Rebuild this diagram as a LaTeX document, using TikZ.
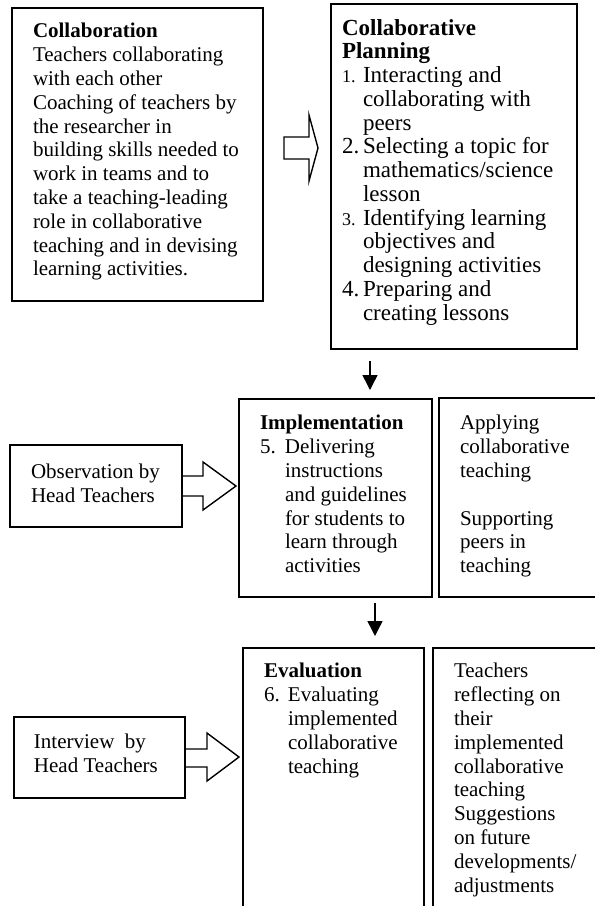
\documentclass[tikz,border=0pt]{standalone}
\usepackage{fontspec}
\setmainfont{Liberation Serif}
\usetikzlibrary{arrows.meta}
\newcommand\numb[1]{\makebox[21pt][l]{#1}}
\newcommand\smallnumb[1]{\makebox[21pt][l]{\fontsize{18}{23.75}\selectfont #1}}
\newcommand\hind[1][21pt]{\hspace*{#1}}
\begin{document}
\begin{tikzpicture}[x=1pt,y=-1pt,line join=miter,
  box/.style={draw,line width=1.5pt,inner sep=0pt,outer sep=0pt,anchor=north west},
  txt/.style={anchor=north west,inner sep=0pt,outer sep=0pt,align=left,font=\fontsize{21}{23.8}\selectfont},
  bigtxt/.style={txt,font=\fontsize{23}{23.75}\selectfont},
  blockarrow/.style={draw,line width=1.4pt},
  downarrow/.style={-{Triangle[width=15pt,length=15pt]},line width=1.5pt}
]
\clip (0,0) rectangle (595,906);
\fill[white] (0,0) rectangle (595,906);

% boxes
\node[box,minimum width=251pt,minimum height=293pt] (collab) at (12,8) {};
\node[box,minimum width=246pt,minimum height=345pt] (plan) at (331,4) {};
\node[box,minimum width=193pt,minimum height=198pt] (impl) at (239,399) {};
\node[box,minimum width=170pt,minimum height=199pt] (apply) at (439,398) {};
\node[box,minimum width=172pt,minimum height=82pt] (obs) at (10,445) {};
\node[box,minimum width=181pt,minimum height=275pt] (eval) at (243,648) {};
\node[box,minimum width=180pt,minimum height=275pt] (teach) at (433,648) {};
\node[box,minimum width=171pt,minimum height=81pt] (intv) at (14,717) {};

% texts
\node[txt] (collabT) at (33,21.3) {\strut\textbf{Collaboration}\\Teachers collaborating\\with each other\\Coaching of teachers by\\the researcher in\\building skills needed to\\work in teams and to\\take a teaching-leading\\role in collaborative\\teaching and in devising\\learning activities.};

\node[bigtxt] (planT) at (342,18.4) {\strut\textbf{Collaborative}\\\textbf{Planning}\\
\smallnumb{1.}Interacting and\\\hind collaborating with\\\hind peers\\
\numb{2.}Selecting a topic for\\\hind mathematics/science\\\hind lesson\\
\smallnumb{3.}Identifying learning\\\hind objectives and\\\hind designing activities\\
\numb{4.}Preparing and\\\hind creating lessons};

\node[txt] (implT) at (260,413.3) {\strut\textbf{Implementation}\\\makebox[25pt][l]{5.}Delivering\\\hind[25pt]instructions\\\hind[25pt]and guidelines\\\hind[25pt]for students to\\\hind[25pt]learn through\\\hind[25pt]activities};

\node[txt] (applyT) at (460,413.3) {\strut Applying\\collaborative\\teaching\\\mbox{}\\Supporting\\peers in\\teaching};

\node[txt] (obsT) at (31,462.3) {\strut Observation by\\Head Teachers};

\node[txt] (evalT) at (264,661.3) {\strut\textbf{Evaluation}\\\makebox[24pt][l]{6.}Evaluating\\\hind[24pt]implemented\\\hind[24pt]collaborative\\\hind[24pt]teaching};

\node[txt] (teachT) at (454,661.3) {\strut Teachers\\reflecting on\\their\\implemented\\collaborative\\teaching\\Suggestions\\on future\\developments/\\adjustments};

\node[txt] (intvT) at (34,732.3) {\strut Interview~ by\\Head Teachers};

% block arrows
\draw[blockarrow] (284,137) -- (309,137) -- (309,115) -- (318,148) -- (309,181) -- (309,159) -- (284,159) -- cycle;
\draw[blockarrow] (obs.east |- 0,476) -- (203,476) -- (203,462) -- (236,486) -- (203,510) -- (203,496) -- (obs.east |- 0,496);
\draw[blockarrow] (intv.east |- 0,749) -- (207,749) -- (207,733) -- (239,757) -- (207,781) -- (207,767) -- (intv.east |- 0,767);

% down arrows
\coordinate (d1) at (370,0);
\coordinate (d2) at (375,0);
\draw[downarrow,shorten <=12pt,shorten >=9pt] (plan.south -| d1) -- (impl.north -| d1);
\draw[downarrow,shorten <=6pt,shorten >=12pt] (impl.south -| d2) -- (eval.north -| d2);
\end{tikzpicture}
\end{document}
